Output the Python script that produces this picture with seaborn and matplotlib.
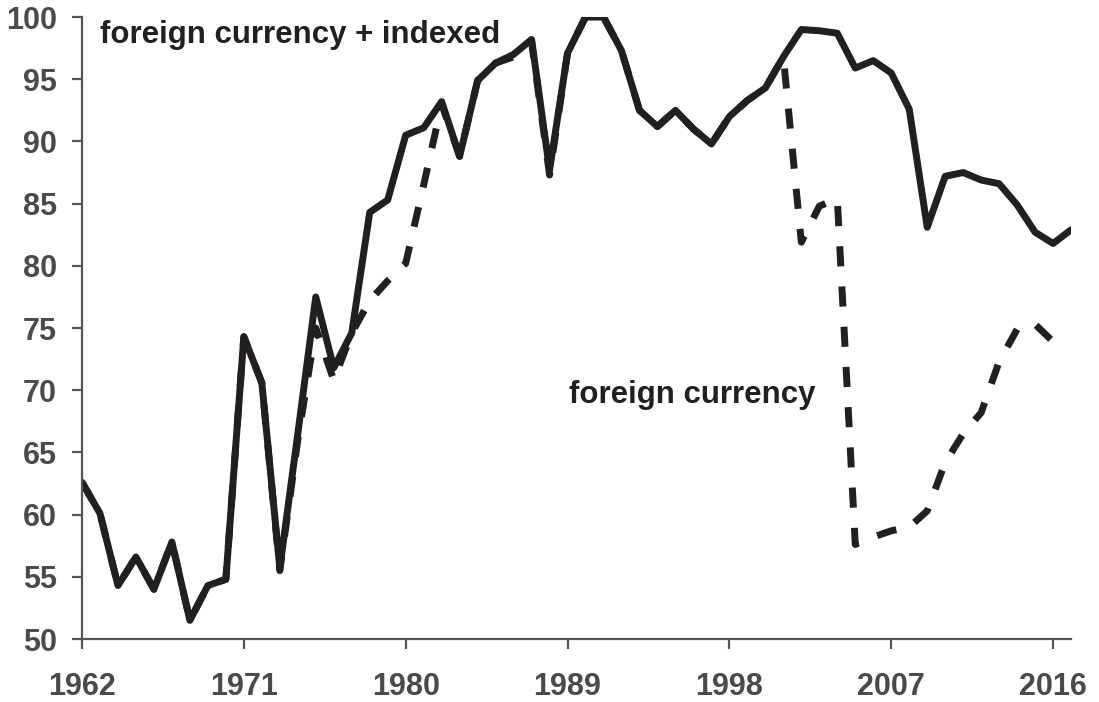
import numpy as np
import pandas as pd
import matplotlib
matplotlib.use("Agg")
import matplotlib.pyplot as plt
import seaborn as sns

# share of debt in foreign currency (+ indexed)
years_total = list(range(1962, 2018))
total = [62.6, 60.1, 54.3, 56.6, 54.0, 57.8, 51.5, 54.3, 54.8, 74.3,
         70.6, 55.7, 66.5, 77.5, 71.8, 74.6, 84.3, 85.3, 90.5, 91.1,
         93.2, 88.8, 94.9, 96.3, 97.0, 98.2, 87.7, 97.1, 100.0, 100.0,
         97.3, 92.5, 91.2, 92.5, 91.0, 89.8, 92.0, 93.3, 94.3, 96.8,
         99.0, 98.9, 98.7, 95.9, 96.5, 95.5, 92.6, 83.1, 87.2, 87.5,
         86.9, 86.6, 84.9, 82.7, 81.8, 82.9]

years_fx = list(range(1962, 2017))
fx = [62.6, 60.1, 54.3, 56.6, 54.0, 57.8, 51.5, 54.3, 54.8, 74.3,
      70.6, 55.5, 66.0, 75.0, 70.8, 74.6, 77.2, 78.8, 80.2, 86.5,
      93.0, 88.8, 94.9, 96.3, 96.8, 98.0, 87.3, 97.1, 100.0, 100.0,
      97.3, 92.5, 91.2, 92.5, 91.0, 89.8, 92.0, 93.3, 94.3, 96.8,
      81.9, 84.8, 85.4, 57.6, 58.2, 58.7, 59.0, 60.3, 64.2, 66.5,
      68.2, 72.3, 74.9, 75.3, 73.9]

xticks = [1962, 1971, 1980, 1989, 1998, 2007, 2016]
yticks = list(range(50, 101, 5))

label_total = "foreign currency + indexed"
label_fx = "foreign currency"

sns.set_style("white")
plt.rcParams['font.family'] = ['Liberation Sans', 'DejaVu Sans']

line_color = "#231f20"
axis_color = "#555555"
tick_color = "#4a4a4a"

fig = plt.figure(figsize=(10.99, 7.02), dpi=100)
ax = fig.add_axes([0.0746, 0.0897, 0.9, 0.886])

sns.lineplot(x=years_fx, y=fx, ax=ax, color=line_color, linewidth=5,
             linestyle=(0, (2.9, 2.9)), solid_capstyle='butt')
sns.lineplot(x=years_total, y=total, ax=ax, color=line_color, linewidth=5)

ax.set_xlim(1962, 2017)
ax.set_ylim(50, 100)
ax.set_xticks(xticks)
ax.set_yticks(yticks)
ax.set_xlabel("")
ax.set_ylabel("")

for side in ["top", "right"]:
    ax.spines[side].set_visible(False)
for side in ["left", "bottom"]:
    ax.spines[side].set_color(axis_color)
    ax.spines[side].set_linewidth(1.6)

ax.tick_params(axis='both', direction='out', length=7, width=1.6,
               bottom=True, left=True,
               color=axis_color, labelcolor=tick_color, labelsize=22)
ax.tick_params(axis='x', pad=17)
ax.tick_params(axis='y', pad=11)
for lab in ax.get_xticklabels() + ax.get_yticklabels():
    lab.set_fontweight('bold')

ax.text(1963.0, 97.9, label_total, fontsize=22.5, fontweight='bold',
        color=line_color, ha='left', va='baseline')
ax.text(1989.06, 69.0, label_fx, fontsize=22.5, fontweight='bold',
        color=line_color, ha='left', va='baseline')

fig.savefig("out.png", dpi=100)
